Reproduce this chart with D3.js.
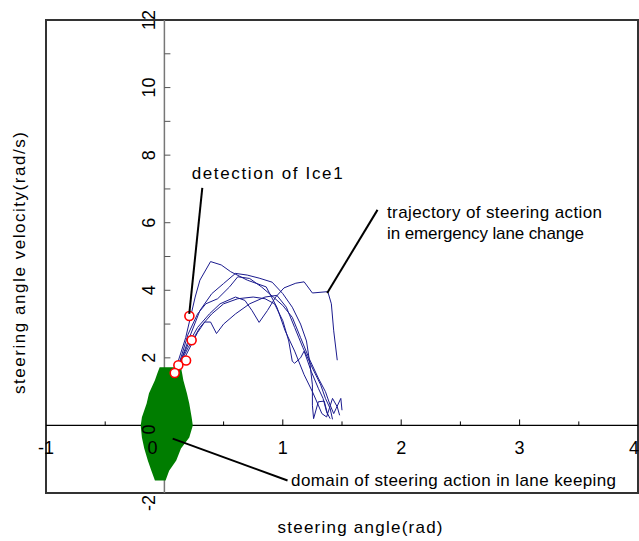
<!DOCTYPE html>
<html>
<head>
<meta charset="utf-8">
<script src="https://cdn.jsdelivr.net/npm/d3@7"></script>
<style>
  body { margin: 0; background: #fff; }
  text { font-family: 'Liberation Sans', Arial, sans-serif; fill: #000; }
</style>
</head>
<body>
<div id="vis"></div>
<script>
// axis ticks
const xLabels = [-1, 0, 1, 2, 3, 4]
const xMajor = [1, 2, 3]
const xMinor = [-0.5, 0.5, 1.5, 2.5, 3.5]
const yLabels = [-2, 0, 2, 4, 6, 8, 10, 12]
const yTickVals = [-1, 1, 2, 3, 4, 5, 6, 7, 8, 9, 10, 11]

// lane keeping domain: y level, left and right edge (rad)
const domainY = [1.72, 1.54, 1.34, 0.95, 0.65, 0.24, 0, -0.36, -0.68, -1.04, -1.34, -1.63]
const domainLo = [-0.04, -0.06, -0.08, -0.13, -0.15, -0.19, -0.2, -0.19, -0.17, -0.14, -0.11, -0.08]
const domainHi = [0.14, 0.15, 0.16, 0.19, 0.21, 0.23, 0.24, 0.21, 0.14, 0.1, 0.04, 0.01]

// emergency lane change trajectories [angle, velocity]
const run1 = [[0.08, 1.5], [0.18, 2.6], [0.26, 3.8], [0.3, 4.3], [0.39, 4.85], [0.48, 4.75], [0.56, 4.55], [0.7, 4.3], [0.86, 4.1], [0.95, 3.5], [1.02, 2.8], [1.1, 2.2], [1.18, 1.5], [1.25, 1.0], [1.3, 0.6], [1.33, 0.35], [1.37, 0.25], [1.42, 0.8], [1.46, 0.55], [1.48, 0.3]]
const run2 = [[0.1, 1.55], [0.2, 2.5], [0.3, 3.4], [0.4, 3.9], [0.5, 4.2], [0.6, 4.5], [0.7, 4.45], [0.8, 4.36], [0.91, 4.24], [1.0, 3.9], [1.08, 3.5], [1.15, 3.0], [1.2, 2.5], [1.23, 1.8], [1.25, 1.2], [1.25, 0.6], [1.26, 0.2], [1.3, 0.7], [1.35, 0.72], [1.38, 0.3]]
const run3 = [[0.1, 1.6], [0.2, 2.4], [0.28, 2.9], [0.38, 3.3], [0.47, 3.6], [0.6, 3.8], [0.68, 3.7], [0.74, 3.4], [0.8, 3.05], [0.87, 3.4], [0.94, 3.8], [1.01, 4.07], [1.11, 4.21], [1.18, 4.25], [1.25, 3.92], [1.38, 3.96], [1.41, 3.6], [1.43, 2.8], [1.46, 1.93]]
const run4 = [[0.1, 1.6], [0.2, 2.3], [0.3, 2.9], [0.4, 3.3], [0.5, 3.6], [0.62, 3.75], [0.75, 3.8], [0.85, 3.75], [0.93, 3.6], [1.0, 3.1], [1.05, 2.5], [1.08, 1.9], [1.1, 1.84], [1.15, 2.0], [1.18, 2.2], [1.24, 1.6], [1.3, 1.1], [1.34, 0.8], [1.37, 0.4], [1.4, 0.2]]
const run5 = [[0.1, 1.5], [0.2, 2.2], [0.28, 2.75], [0.34, 3.06], [0.39, 3.06], [0.44, 2.72], [0.5, 3.0], [0.6, 3.3], [0.72, 3.6], [0.85, 3.8], [0.95, 3.85], [1.03, 3.5], [1.1, 2.9], [1.17, 2.3], [1.25, 1.7], [1.32, 1.2], [1.36, 0.8], [1.4, 0.5], [1.42, 0.18]]
const run6 = [[0.1, 1.55], [0.2, 2.7], [0.28, 3.3], [0.35, 3.6], [0.45, 3.75], [0.55, 4.1], [0.62, 4.4], [0.72, 4.35], [0.82, 4.1], [0.92, 3.8], [1.0, 3.55], [1.08, 3.2], [1.15, 2.6], [1.22, 2.0], [1.3, 1.4], [1.36, 1.0], [1.4, 0.6], [1.43, 0.35], [1.45, 0.5], [1.49, 0.8], [1.5, 0.45]]

// detection of Ice1 on each run
const detectX = [0.211, 0.23, 0.183, 0.118, 0.087]
const detectY = [3.24, 2.52, 1.92, 1.78, 1.55]

// annotations: text lines and leader lines [from, to] in data units
const notes = [
  { lines: ['detection of Ice1'], at: [0.23, 7.3], from: [0.32, 7.03], to: [0.21, 3.3] },
  { lines: ['trajectory of steering action', 'in emergency lane change'], at: [1.88, 6.15], from: [1.8, 6.38], to: [1.375, 3.92] },
  { lines: ['domain of steering action in lane keeping'], at: [1.07, -1.8], from: [0.07, -0.39], to: [1.04, -1.63] },
]
const noteWidths = [[151], [215, 197], [325]]

function draw(w, h) {
  const svg = d3.select('#vis').append('svg').attr('width', w).attr('height', h)

  const x = d3.scaleLinear().domain([-1, 4]).range([46, 638])
  const y = d3.scaleLinear().domain([-2, 12]).range([493, 20])

  // frame
  svg.append('rect')
    .attr('x', x(-1)).attr('y', y(12))
    .attr('width', x(4) - x(-1)).attr('height', y(-2) - y(12))
    .attr('fill', 'none').attr('stroke', '#333').attr('stroke-width', 2)

  // zero axes through the origin
  svg.append('line')
    .attr('x1', x(-1)).attr('x2', x(4)).attr('y1', y(0)).attr('y2', y(0))
    .attr('stroke', '#000').attr('stroke-width', 1.2)
  svg.append('line')
    .attr('x1', x(0)).attr('x2', x(0)).attr('y1', y(12)).attr('y2', y(-2))
    .attr('stroke', '#777').attr('stroke-width', 1.5)

  // ticks on the zero axes
  svg.selectAll('.xmaj').data(xMajor).enter().append('line')
    .attr('x1', d => x(d)).attr('x2', d => x(d)).attr('y1', y(0)).attr('y2', y(0) - 6)
    .attr('stroke', '#000')
  svg.selectAll('.xmin').data(xMinor).enter().append('line')
    .attr('x1', d => x(d)).attr('x2', d => x(d)).attr('y1', y(0)).attr('y2', y(0) - 4)
    .attr('stroke', '#000')
  svg.selectAll('.ytk').data(yTickVals).enter().append('line')
    .attr('x1', x(0)).attr('x2', x(0) + 6).attr('y1', d => y(d)).attr('y2', d => y(d))
    .attr('stroke', '#555')

  // lane keeping domain
  const domainPts = domainY.map((v, i) => ({ v: v, lo: domainLo[i], hi: domainHi[i] }))
  svg.append('path')
    .datum(domainPts)
    .attr('d', d3.area().y(d => y(d.v)).x0(d => x(d.lo)).x1(d => x(d.hi)))
    .attr('fill', '#007d00')

  // tick labels ("4" sits on the right edge, keep it inside)
  svg.selectAll('.xl').data(xLabels).enter().append('text')
    .attr('x', d => x(d) - (d === 0 ? 12 : 0) + (d === 4 ? 1 : 0)).attr('y', 454)
    .attr('text-anchor', d => (d === 4 ? 'end' : 'middle')).style('font-size', '18px')
    .text(d => d)
  svg.selectAll('.yl').data(yLabels).enter().append('text')
    .attr('transform', d => 'translate(' + [155, y(d) + (d === 0 ? 4 : d === -2 ? 10 : 0)] + ')rotate(-90)')
    .attr('text-anchor', 'middle').style('font-size', '18px')
    .text(d => d)

  // trajectories
  const line = d3.line().x(d => x(d[0])).y(d => y(d[1]))
  svg.selectAll('.run').data([run1, run2, run3, run4, run5, run6]).enter().append('path')
    .attr('d', line)
    .attr('fill', 'none').attr('stroke', '#1b1b8e').attr('stroke-width', 1)

  svg.selectAll('.det').data(detectX).enter().append('circle')
    .attr('cx', d => x(d)).attr('cy', (d, i) => y(detectY[i])).attr('r', 4.5)
    .attr('fill', '#fff').attr('stroke', '#f00').attr('stroke-width', 1.6)

  // annotations
  notes.forEach((n, k) => {
    svg.append('line')
      .attr('x1', x(n.from[0])).attr('y1', y(n.from[1]))
      .attr('x2', x(n.to[0])).attr('y2', y(n.to[1]))
      .attr('stroke', '#000').attr('stroke-width', 2)
    n.lines.forEach((s, j) => {
      svg.append('text')
        .attr('x', x(n.at[0])).attr('y', y(n.at[1]) + j * 21)
        .attr('textLength', noteWidths[k][j]).attr('lengthAdjust', 'spacing')
        .style('font-size', '17px')
        .text(s)
    })
  })

  // axis titles
  svg.append('text')
    .attr('x', 360).attr('y', 533)
    .attr('text-anchor', 'middle').attr('textLength', 165).attr('lengthAdjust', 'spacing')
    .style('font-size', '17px')
    .text('steering angle(rad)')
  svg.append('text')
    .attr('transform', 'translate(25,263)rotate(-90)')
    .attr('text-anchor', 'middle').attr('textLength', 262).attr('lengthAdjust', 'spacing')
    .style('font-size', '17px')
    .text('steering angle velocity(rad/s)')
}

draw(639, 541)
</script>
</body>
</html>
